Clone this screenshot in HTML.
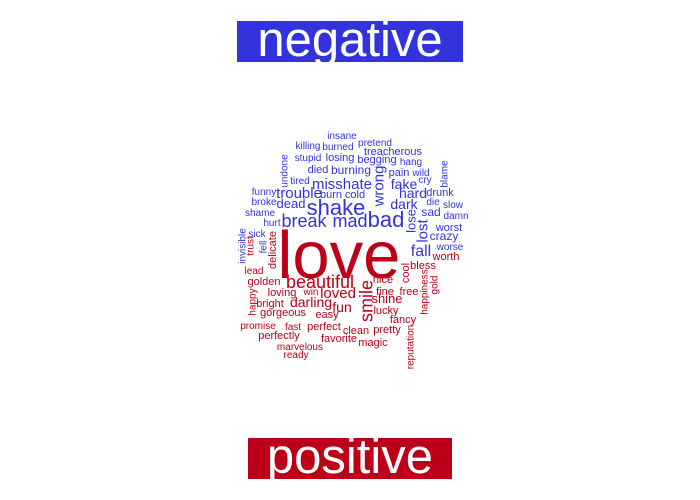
<!DOCTYPE html>
<html><head><meta charset="utf-8"><style>
html,body{margin:0;padding:0;background:#fff}
svg{display:block;font-family:"Liberation Sans",Arial,sans-serif}
</style></head><body>
<svg id="c" width="700" height="500">
<rect x="237" y="21" width="226" height="41" fill="#3333DD"/>
<text x="350" y="56" font-size="49" fill="#fff" text-anchor="middle">negative</text>
<rect x="248" y="438" width="204" height="41" fill="#BB0018"/>
<text x="350" y="473" font-size="49" fill="#fff" text-anchor="middle">positive</text>
<g id="words"></g>
</svg>
<script>
var words=["insane","pretend","killing","burned","treacherous","stupid","losing","begging","hang","died","burning","pain","wild","tired","misshate","fake","cry","trouble","burn","cold","hard","drunk","funny","broke","dead","shake","dark","die","slow","shame","sad","damn","hurt","break","mad","bad","worst","sick","crazy","worse","fall","undone","wrong","blame","lose","lost","invisible","fell",
"love","worth","lead","golden","beautiful","loved","nice","bless","loving","win","fine","free","bright","darling","fun","shine","gorgeous","easy","lucky","fancy","promise","fast","perfect","clean","pretty","perfectly","favorite","magic","marvelous","ready","trust","delicate","happy","smile","cool","happiness","gold","reputation"];
var sentiment=["n","n","n","n","n","n","n","n","n","n","n","n","n","n","n","n","n","n","n","n","n","n","n","n","n","n","n","n","n","n","n","n","n","n","n","n","n","n","n","n","n","n","n","n","n","n","n","n",
"p","p","p","p","p","p","p","p","p","p","p","p","p","p","p","p","p","p","p","p","p","p","p","p","p","p","p","p","p","p","p","p","p","p","p","p","p","p"];
var sizes=[10,10,10,10,11,10,11,11,10,11,12,11,10,10,15,14,10,15,11,11,14,11,10,10,13,22,14,10,10,10,12,10,10,18,18,22,11,10,12,10,16,10,15,10,13,15,10,10,
67,11,10,11,18,15,11,11,11,10,11,11,11,14,14,13,11,11,11,11,10,10,11,11,11,11,11,11,10,10,10,11,10,18,11,10,10,10];
var px=[342,375,308,338,393,308,340,377,411,318,351,399,421,300,342,404,425,299,331,355,413,440,264,264,291,336,404,433,453,260,431,456,272,304,350,386,449,257,444,450,421,284,378,444,411,422,242,263,
339,446,254,264,320,338,383,423,282,311,385,409,270,311,342,387,283,327,386,403,258,293,324,356,387,279,339,373,300,296,250,272,252,366,405,424,434,410];
var py=[139,146,149,150,155,161,161,163,165,173,174,176,176,184,189,189,183,198,198,198,198,196,195,205,208,215,209,205,208,216,216,219,226,227,227,227,231,237,240,250,256,171,186,174,221,231,246,247,
278,260,274,285,288,298,283,269,296,295,295,295,307,307,312,303,316,318,314,323,329,330,330,334,333,339,342,346,350,358,246,250,302,301,273,292,285,347];
var rot=[0,0,0,0,0,0,0,0,0,0,0,0,0,0,0,0,0,0,0,0,0,0,0,0,0,0,0,0,0,0,0,0,0,0,0,0,0,0,0,0,0,1,1,1,1,1,1,1,
0,0,0,0,0,0,0,0,0,0,0,0,0,0,0,0,0,0,0,0,0,0,0,0,0,0,0,0,0,0,1,1,1,1,1,1,1,1];
var g=document.getElementById('words');
for(var i=0;i<words.length;i++){
  var t=document.createElementNS('http://www.w3.org/2000/svg','text');
  
  
  t.setAttribute('font-size',sizes[i]);
  t.setAttribute('fill',sentiment[i]==='n'?'#3333DD':'#BB0018');
  t.setAttribute('text-anchor','middle');
  if(rot[i]){
    t.setAttribute('x',0);t.setAttribute('y',0);t.setAttribute('dy','0.35em');
    t.setAttribute('transform','translate('+px[i]+','+py[i]+') rotate(-90)');
  }else{
    t.setAttribute('x',px[i]);t.setAttribute('y',py[i]);
  }
  t.textContent=words[i];
  g.appendChild(t);
}
</script>
</body></html>
